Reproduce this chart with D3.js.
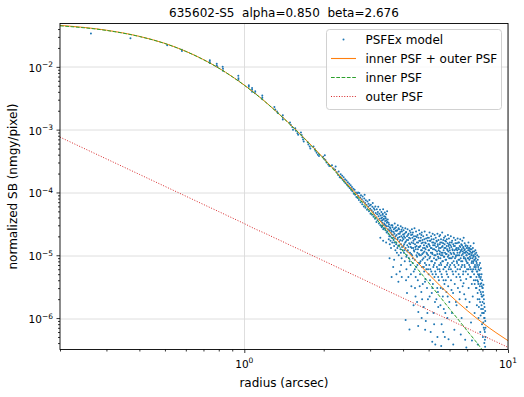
<!DOCTYPE html>
<html>
<head>
<meta charset="utf-8">
<script src="https://cdn.jsdelivr.net/npm/d3@7"></script>
<style>
  body { margin: 0; background: #fff; }
  svg { display: block; font-family: "DejaVu Sans", sans-serif; }
</style>
</head>
<body>
<svg id="chart"></svg>
<script>
// model curves
const curveR = [0.2, 0.3, 0.4, 0.5, 0.6, 0.7, 0.8, 0.9, 1.0, 1.1, 1.2, 1.3, 1.4, 1.5, 1.6, 1.7, 1.8, 1.9, 2.0, 2.2, 2.4, 2.6, 2.8, 3.0, 3.2, 3.5, 3.8, 4.0, 4.5, 5.0, 5.5, 6.0, 6.5, 7.0, 7.5, 8.0, 8.5, 9.0, 10];
const innerSB = [4.50e-2, 3.80e-2, 3.04e-2, 2.35e-2, 1.76e-2, 1.30e-2, 9.52e-3, 6.95e-3, 5.09e-3, 3.74e-3, 2.77e-3, 2.06e-3, 1.554e-3, 1.18e-3, 9.06e-4, 7.01e-4, 5.47e-4, 4.31e-4, 3.42e-4, 2.21e-4, 1.467e-4, 9.98e-5, 6.96e-5, 4.96e-5, 3.59e-5, 2.29e-5, 1.51e-5, 1.16e-5, 6.33e-6, 3.67e-6, 2.23e-6, 1.41e-6, 9.3e-7, 6.28e-7, 4.4e-7, 3.10e-7, 2.25e-7, 1.66e-7, 9.5e-8];
const outerSB = [7.6e-4, 3.42e-4, 1.94e-4, 1.25e-4, 8.73e-5, 6.44e-5, 4.96e-5, 3.93e-5, 3.19e-5, 2.62e-5, 2.23e-5, 1.9e-5, 1.645e-5, 1.43e-5, 1.264e-5, 1.12e-5, 1.002e-5, 9.0e-6, 8.15e-6, 6.75e-6, 5.68e-6, 4.85e-6, 4.2e-6, 3.66e-6, 3.22e-6, 2.70e-6, 2.30e-6, 2.08e-6, 1.65e-6, 1.34e-6, 1.11e-6, 9.36e-7, 8.0e-7, 6.90e-7, 6.0e-7, 5.31e-7, 4.7e-7, 4.21e-7, 3.42e-7];
const totalSB = [4.576e-2, 3.834e-2, 3.059e-2, 2.363e-2, 1.769e-2, 1.306e-2, 9.57e-3, 6.99e-3, 5.12e-3, 3.77e-3, 2.79e-3, 2.08e-3, 1.570e-3, 1.194e-3, 9.19e-4, 7.12e-4, 5.57e-4, 4.40e-4, 3.50e-4, 2.28e-4, 1.52e-4, 1.05e-4, 7.4e-5, 5.33e-5, 3.9e-5, 2.56e-5, 1.74e-5, 1.37e-5, 7.98e-6, 5.01e-6, 3.34e-6, 2.35e-6, 1.73e-6, 1.32e-6, 1.04e-6, 8.41e-7, 6.95e-7, 5.87e-7, 4.37e-7];

// PSFEx model pixels [radius, SB]
const psfexPoints = [
  [0.262,3.4e-2],[0.37,2.85e-2],[0.51,2.2e-2],[0.58,1.88e-2],[0.58,1.78e-2],
  [0.74,1.27e-2],[0.74,1.2e-2],[0.74,1.15e-2],[0.786,1.12e-2],[0.786,1.05e-2],[0.79,1.0e-2],
  [0.828,1.0e-2],[0.83,9.3e-3],[0.83,8.7e-3],[0.949,7.2e-3],[0.95,6.6e-3],[0.95,6.2e-3],
  [1.04,5.1e-3],[1.04,4.8e-3],[1.07,4.6e-3],[1.07,4.3e-3],[1.07,4.0e-3],[1.10,4.1e-3],[1.10,3.8e-3],
  [1.17,3.5e-3],[1.17,3.25e-3],[1.17,3.05e-3],[1.30,2.3e-3],[1.31,2.1e-3],[1.33,1.95e-3],[1.34,1.85e-3],
  [1.40,1.7e-3],[1.40,1.55e-3],[1.40,1.45e-3],[1.49,1.3e-3],[1.50,1.2e-3],[1.52,1.1e-3],[1.53,1.0e-3],
  [1.56,1.05e-3],[1.57,9.6e-4],[1.59,8.8e-4],[1.60,8.3e-4],[1.64,9.0e-4],[1.65,8.2e-4],[1.66,7.6e-4],
  [1.67,7.0e-4],[1.68,6.5e-4],[1.74,6.3e-4],[1.75,5.8e-4],[1.77,5.4e-4],[1.78,5.0e-4],
  [1.83,5.4e-4],[1.85,4.9e-4],[1.86,4.6e-4],[1.88,4.3e-4],[1.90,4.0e-4],[1.92,3.8e-4],
  [1.99,3.7e-4],[2.01,3.4e-4],[2.03,3.3e-4],[2.05,3.0e-4],[2.08,2.8e-4],[2.10,2.65e-4],[2.02,3.9e-4],
  [2.15,2.7e-4],[2.18,2.4e-4],[2.21,2.3e-4],[2.24,2.1e-4],[2.27,1.9e-4],[2.30,1.75e-4],[2.22,2.6e-4],[2.28,2.15e-4],
  [2.32,1.95e-4],[2.33,1.7e-4],[2.35,1.85e-4],[2.36,1.6e-4],[2.38,1.75e-4],[2.39,1.5e-4],[2.41,1.62e-4],[2.42,1.4e-4],
  [2.44,1.55e-4],[2.45,1.33e-4],[2.47,1.45e-4],[2.48,1.25e-4],[2.50,1.38e-4],[2.51,1.18e-4],[2.53,1.3e-4],[2.54,1.1e-4],
  [2.56,1.22e-4],[2.57,1.05e-4],[2.59,1.15e-4],[2.60,9.5e-5],[2.62,1.1e-4],[2.63,9.2e-5],[2.65,1.0e-4],[2.66,8.5e-5],
  [2.68,9.6e-5],[2.69,8.2e-5],[2.70,1.0e-4],
  [2.71,8.8e-5],[2.72,7.6e-5],[2.73,9.8e-5],[2.75,8.3e-5],[2.76,7.0e-5],[2.77,9.0e-5],[2.79,7.8e-5],[2.80,6.5e-5],
  [2.81,8.6e-5],[2.83,7.2e-5],[2.84,6.0e-5],[2.85,8.0e-5],[2.87,6.8e-5],[2.88,5.7e-5],[2.89,7.5e-5],[2.91,6.3e-5],
  [2.92,5.3e-5],[2.93,7.2e-5],[2.95,5.9e-5],[2.96,6.6e-5],[2.97,5.0e-5],[2.99,6.2e-5],[3.00,5.5e-5],[3.01,4.6e-5],
  [3.02,6.4e-5],[3.04,5.2e-5],[3.05,4.4e-5],[3.06,5.9e-5],[3.08,4.9e-5],[3.09,4.1e-5],[3.10,5.6e-5],[2.86,9.2e-5],
  [2.98,7.6e-5],[3.07,6.8e-5],
  [3.11,4.4e-5],[3.12,5.3e-5],[3.13,3.8e-5],[3.14,6.0e-5],[3.15,4.7e-5],[3.16,4.0e-5],[3.17,3.4e-5],[3.18,5.4e-5],
  [3.19,4.5e-5],[3.20,3.6e-5],[3.21,4.9e-5],[3.22,5.9e-5],[3.23,4.2e-5],[3.24,3.2e-5],[3.25,4.6e-5],[3.26,3.8e-5],
  [3.27,5.3e-5],[3.28,3.0e-5],[3.29,4.3e-5],[3.30,3.5e-5],[3.31,4.9e-5],[3.32,2.8e-5],[3.33,4.0e-5],[3.34,3.3e-5],
  [3.35,4.6e-5],[3.36,5.4e-5],[3.37,3.7e-5],[3.38,2.7e-5],[3.39,4.2e-5],[3.40,3.1e-5],[3.41,4.8e-5],[3.42,3.5e-5],
  [3.43,2.5e-5],[3.44,3.9e-5],[3.45,4.5e-5],[3.46,2.9e-5],[3.47,3.3e-5],[3.48,5.0e-5],[3.49,2.4e-5],[3.50,3.7e-5],
  [3.28,1.9e-5],[3.36,1.7e-5],[3.45,1.6e-5],
  [3.305,3.9e-5],[3.315,2.9e-5],[3.335,3.6e-5],[3.345,4.4e-5],[3.355,3.0e-5],[3.365,2.6e-5],[3.385,3.8e-5],[3.395,3.2e-5],
  [3.415,2.7e-5],[3.425,4.1e-5],[3.435,3.0e-5],[3.455,3.6e-5],[3.465,2.3e-5],[3.485,3.4e-5],[3.505,2.6e-5],[3.525,3.3e-5],
  [3.545,2.0e-5],[3.565,2.8e-5],[3.585,1.7e-5],[3.605,2.5e-5],[3.625,2.15e-5],[3.645,3.0e-5],[3.665,1.9e-5],[3.685,2.35e-5],
  [3.705,1.6e-5],[3.725,2.7e-5],[3.745,2.0e-5],[3.765,1.5e-5],[3.785,2.45e-5],[3.805,1.3e-5],[3.825,1.9e-5],[3.845,2.7e-5],
  [3.865,1.45e-5],[3.885,2.2e-5],[3.905,1.75e-5],[3.925,1.1e-5],[3.945,2.55e-5],[3.965,1.35e-5],[3.985,1.9e-5],
  [3.555,9.0e-6],[3.775,5.0e-6],[3.955,4.5e-6],
  [3.51,2.9e-5],[3.52,2.2e-5],[3.53,1.8e-5],[3.54,3.1e-5],[3.55,2.5e-5],[3.56,1.5e-5],[3.57,2.0e-5],[3.58,2.7e-5],
  [3.59,2.3e-5],[3.60,1.3e-5],[3.61,3.0e-5],[3.62,1.9e-5],[3.63,2.4e-5],[3.64,1.6e-5],[3.65,2.8e-5],[3.66,2.1e-5],
  [3.67,6.5e-6],[3.68,1.75e-5],[3.69,2.6e-5],[3.70,1.4e-5],[3.71,2.2e-5],[3.72,3.2e-5],[3.73,1.85e-5],[3.74,1.2e-5],
  [3.75,2.45e-5],[3.62,4.5e-6],[3.70,8.5e-6],
  [3.76,2.8e-5],[3.77,1.6e-5],[3.78,2.1e-5],[3.79,1.1e-5],[3.80,2.5e-5],[3.81,1.8e-5],[3.82,3.0e-5],[3.83,1.4e-5],
  [3.84,2.2e-5],[3.85,1.0e-5],[3.86,2.6e-5],[3.87,1.65e-5],[3.88,1.95e-5],[3.89,5.5e-6],[3.90,2.35e-5],[3.91,1.25e-5],
  [3.92,2.9e-5],[3.93,1.5e-5],[3.94,2.0e-5],[3.95,9.0e-6],[3.96,2.4e-5],[3.97,1.7e-5],[3.98,2.75e-5],[3.99,1.2e-5],
  [4.00,2.15e-5],[3.84,3.8e-6],[3.93,7.0e-6],
  [4.01,1.8e-5],[4.02,2.5e-5],[4.03,1.1e-5],[4.04,1.5e-5],[4.05,2.2e-5],[4.06,8.0e-6],[4.07,1.9e-5],[4.08,2.7e-5],
  [4.09,1.3e-5],[4.10,1.65e-5],[4.11,2.35e-5],[4.12,6.0e-6],[4.13,1.0e-5],[4.14,2.0e-5],[4.15,1.45e-5],[4.16,2.6e-5],
  [4.17,1.2e-5],[4.18,1.75e-5],[4.19,4.5e-6],[4.20,2.2e-5],[4.21,9.0e-6],[4.22,1.55e-5],[4.23,6.6e-7],[4.24,2.45e-5],
  [4.25,1.1e-5],[4.26,1.85e-5],[4.27,7.0e-6],[4.28,1.35e-5],[4.29,2.1e-5],[4.30,3.2e-6],[4.14,2.5e-6],[4.09,9.3e-7],
  [4.015,1.4e-5],[4.035,2.0e-5],[4.055,1.2e-5],[4.075,1.6e-5],[4.095,2.3e-5],[4.115,9.5e-6],[4.135,1.75e-5],[4.155,1.15e-5],
  [4.175,2.1e-5],[4.195,1.35e-5],[4.215,1.9e-5],[4.235,8.0e-6],[4.255,1.5e-5],[4.275,2.3e-5],[4.295,1.05e-5],[4.315,1.3e-5],
  [4.335,2.15e-5],[4.355,9.0e-6],[4.375,1.55e-5],[4.395,1.2e-5],[4.415,1.8e-5],[4.435,6.0e-6],[4.455,1.35e-5],[4.475,2.0e-5],
  [4.495,1.0e-5],[4.515,1.6e-5],[4.535,7.0e-6],[4.555,1.25e-5],[4.575,1.9e-5],[4.595,1.05e-5],[4.615,1.35e-5],[4.635,7.5e-6],
  [4.655,1.7e-5],[4.675,1.0e-5],[4.695,2.1e-5],[4.715,1.2e-5],[4.735,8.5e-6],[4.755,1.6e-5],[4.775,1.1e-5],[4.795,6.5e-6],
  [4.815,1.8e-5],[4.835,1.3e-5],[4.855,9.5e-6],[4.875,1.55e-5],[4.895,7.0e-6],[4.915,1.4e-5],[4.935,1.05e-5],[4.955,1.9e-5],
  [4.975,6.0e-6],[4.995,1.2e-5],[4.105,4.0e-6],[4.285,5.0e-6],[4.465,4.5e-6],[4.625,3.2e-6],[4.725,2.0e-6],[4.845,3.8e-6],
  [4.945,1.2e-6],[4.385,1.6e-6],[4.565,7.5e-7],[4.705,1.0e-6],
  [4.31,1.6e-5],[4.32,2.6e-5],[4.33,1.0e-5],[4.34,1.9e-5],[4.35,7.5e-6],[4.36,2.3e-5],[4.37,1.3e-5],[4.38,1.7e-5],
  [4.39,5.5e-6],[4.40,2.0e-5],[4.41,1.15e-5],[4.42,2.7e-5],[4.43,8.5e-6],[4.44,1.5e-5],[4.45,1.8e-5],[4.46,2.2e-6],
  [4.47,1.25e-5],[4.48,2.4e-5],[4.49,6.5e-6],[4.50,1.4e-5],[4.51,1.95e-5],[4.52,9.5e-6],[4.53,1.1e-5],[4.54,2.1e-5],
  [4.55,4.0e-6],[4.56,1.6e-5],[4.57,1.25e-6],[4.58,1.35e-5],[4.59,7.5e-6],[4.60,2.5e-5],[4.44,3.0e-6],[4.52,1.8e-6],
  [4.61,1.7e-5],[4.62,1.0e-5],[4.63,2.2e-5],[4.64,5.0e-6],[4.65,1.4e-5],[4.66,8.0e-6],[4.67,1.9e-5],[4.68,1.2e-5],
  [4.69,2.6e-6],[4.70,1.55e-5],[4.71,2.3e-5],[4.72,6.5e-6],[4.73,1.05e-5],[4.74,1.75e-5],[4.75,3.5e-6],[4.76,1.3e-5],
  [4.77,2.0e-5],[4.78,9.0e-6],[4.79,1.5e-6],[4.80,1.45e-5],[4.81,5.5e-6],[4.82,1.15e-5],[4.83,2.4e-5],[4.84,7.5e-6],
  [4.85,1.6e-5],[4.86,4.2e-6],[4.87,1.25e-5],[4.88,9.0e-7],[4.89,1.85e-5],[4.90,6.0e-6],[4.91,1.1e-5],[4.92,2.1e-5],
  [4.93,3.0e-6],[4.94,1.35e-5],[4.95,8.5e-6],[4.96,1.7e-5],[4.97,2.0e-6],[4.98,1.0e-5],[4.99,1.5e-5],[5.00,5.0e-6],
  [4.85,6.5e-7],
  [5.01,1.9e-5],[5.02,1.2e-5],[5.03,7.0e-6],[5.04,2.3e-5],[5.05,1.4e-5],[5.06,4.0e-6],[5.07,9.5e-6],[5.08,1.7e-5],
  [5.09,6.0e-7],[5.10,1.1e-5],[5.11,2.0e-5],[5.12,5.5e-6],[5.13,1.3e-5],[5.14,2.5e-6],[5.15,8.0e-6],[5.16,1.6e-5],
  [5.17,1.05e-5],[5.18,2.2e-5],[5.19,3.5e-6],[5.20,1.45e-5],[5.21,6.5e-6],[5.22,1.2e-6],[5.23,1.8e-5],[5.24,9.0e-6],
  [5.25,1.25e-5],[5.26,4.5e-6],[5.27,2.1e-5],[5.28,7.5e-6],[5.29,1.55e-5],[5.30,3.8e-7],[5.31,1.0e-5],[5.32,1.9e-5],
  [5.33,5.0e-6],[5.34,1.35e-5],[5.35,2.0e-6],[5.36,8.5e-6],[5.37,1.65e-5],[5.38,1.15e-5],[5.39,3.0e-6],[5.40,2.2e-5],
  [5.41,6.0e-6],[5.42,1.4e-5],[5.43,9.5e-6],[5.44,1.5e-6],[5.45,1.75e-5],[5.46,1.2e-5],[5.47,4.0e-6],[5.48,7.0e-6],
  [5.49,2.0e-5],[5.50,1.05e-5],[5.16,4.2e-7],[5.40,5.0e-7],
  [5.015,1.5e-5],[5.035,9.0e-6],[5.055,1.7e-5],[5.075,6.0e-6],[5.095,1.3e-5],[5.115,8.0e-6],[5.135,1.8e-5],[5.155,1.1e-5],
  [5.175,5.0e-6],[5.195,1.25e-5],[5.215,1.6e-5],[5.235,7.0e-6],[5.255,1.0e-5],[5.275,1.45e-5],[5.295,5.5e-6],[5.315,1.2e-5],
  [5.335,8.5e-6],[5.355,1.7e-5],[5.375,6.5e-6],[5.395,1.05e-5],[5.415,1.5e-5],[5.435,4.5e-6],[5.455,9.0e-6],[5.475,1.3e-5],
  [5.495,6.0e-6],[5.515,1.15e-5],[5.535,1.6e-5],[5.555,7.5e-6],[5.575,1.0e-5],[5.595,5.0e-6],[5.615,1.35e-5],[5.635,8.0e-6],
  [5.655,1.1e-5],[5.675,1.55e-5],[5.695,4.0e-6],[5.715,9.5e-6],[5.735,1.3e-5],[5.755,6.5e-6],[5.775,1.7e-5],[5.795,8.5e-6],
  [5.815,1.05e-5],[5.835,5.5e-6],[5.855,1.4e-5],[5.875,7.0e-6],[5.895,1.2e-5],[5.915,9.5e-6],[5.935,4.5e-6],[5.955,1.0e-5],
  [5.975,1.5e-5],[5.995,6.5e-6],[5.045,2.2e-6],[5.165,3.0e-6],[5.285,1.8e-6],[5.425,2.6e-6],[5.545,1.6e-6],[5.665,2.9e-6],
  [5.785,1.2e-6],[5.905,2.2e-6],[5.245,8.0e-7],[5.685,6.0e-7],
  [5.51,1.5e-5],[5.52,5.5e-6],[5.53,2.1e-5],[5.54,9.0e-6],[5.55,1.3e-5],[5.56,3.0e-6],[5.57,1.8e-5],[5.58,7.0e-6],
  [5.59,1.1e-5],[5.60,8.0e-7],[5.61,1.6e-5],[5.62,4.5e-6],[5.63,2.3e-5],[5.64,1.0e-5],[5.65,1.4e-5],[5.66,2.2e-6],
  [5.67,8.0e-6],[5.68,1.75e-5],[5.69,6.0e-6],[5.70,1.2e-5],[5.71,1.4e-6],[5.72,1.9e-5],[5.73,9.5e-6],[5.74,3.5e-6],
  [5.75,1.5e-5],[5.76,5.0e-7],[5.77,1.1e-5],[5.78,2.0e-5],[5.79,6.5e-6],[5.80,1.3e-5],[5.81,4.0e-6],[5.82,1.65e-5],
  [5.83,8.5e-6],[5.84,2.6e-6],[5.85,1.05e-5],[5.86,1.8e-5],[5.87,5.0e-6],[5.88,1.25e-5],[5.89,1.0e-6],[5.90,1.55e-5],
  [5.91,7.5e-6],[5.92,2.1e-5],[5.93,3.2e-6],[5.94,1.15e-5],[5.95,1.4e-5],[5.96,6.0e-6],[5.97,1.85e-5],[5.98,9.0e-6],
  [5.99,1.8e-6],[6.00,1.3e-5],[5.58,3.6e-7],[5.95,4.6e-7],
  [6.02,1.6e-5],[6.04,7.0e-6],[6.05,1.1e-5],[6.07,2.0e-5],[6.08,4.0e-6],[6.10,1.35e-5],[6.11,9.0e-6],[6.13,1.2e-6],
  [6.14,1.7e-5],[6.16,5.5e-6],[6.17,1.2e-5],[6.19,2.5e-6],[6.20,1.5e-5],[6.22,8.0e-6],[6.23,1.9e-5],[6.25,1.05e-5],
  [6.26,6.5e-7],[6.28,3.5e-6],[6.29,1.4e-5],[6.31,6.5e-6],[6.32,1.75e-5],[6.34,9.5e-6],[6.35,1.25e-5],[6.37,4.5e-6],
  [6.38,1.6e-6],[6.40,1.55e-5],[6.41,7.5e-6],[6.43,1.1e-5],[6.44,1.85e-5],[6.46,3.0e-6],[6.47,1.3e-5],[6.49,8.5e-6],
  [6.50,5.0e-6],[6.20,3.8e-7],
  [6.015,1.2e-5],[6.035,9.0e-6],[6.055,1.45e-5],[6.075,6.0e-6],[6.095,1.05e-5],[6.115,1.6e-5],[6.135,7.5e-6],[6.155,1.25e-5],
  [6.175,9.5e-6],[6.195,5.0e-6],[6.215,1.1e-5],[6.235,1.4e-5],[6.255,7.0e-6],[6.275,1.2e-5],[6.295,9.0e-6],[6.315,1.55e-5],
  [6.335,5.5e-6],[6.355,1.0e-5],[6.375,1.3e-5],[6.395,8.0e-6],[6.415,1.2e-5],[6.435,6.0e-6],[6.455,1.0e-5],[6.475,1.6e-5],
  [6.495,7.0e-6],[6.515,1.25e-5],[6.535,8.5e-6],[6.555,1.1e-5],[6.575,4.5e-6],[6.595,1.35e-5],[6.615,9.0e-6],[6.635,1.2e-5],
  [6.655,6.5e-6],[6.675,1.0e-5],[6.695,1.45e-5],[6.715,8.0e-6],[6.735,1.15e-5],[6.755,5.0e-6],[6.775,1.3e-5],[6.795,9.5e-6],
  [6.815,1.1e-5],[6.835,7.0e-6],[6.855,1.25e-5],[6.875,9.0e-6],[6.895,1.4e-5],[6.915,5.5e-6],[6.935,1.15e-5],[6.955,8.0e-6],
  [6.975,1.0e-5],[6.995,6.0e-6],[6.105,2.8e-6],[6.345,1.8e-6],[6.565,2.6e-6],[6.785,3.6e-6],[6.905,2.0e-6],
  [6.52,1.6e-5],[6.53,1.0e-5],[6.55,2.0e-6],[6.56,1.4e-5],[6.58,6.0e-6],[6.59,1.8e-5],[6.61,1.15e-5],[6.62,4.0e-6],
  [6.64,8.0e-6],[6.65,1.5e-5],[6.67,1.0e-6],[6.68,1.25e-5],[6.70,7.0e-6],[6.71,1.7e-5],[6.73,3.2e-6],[6.74,1.05e-5],
  [6.76,1.35e-5],[6.77,5.5e-6],[6.79,1.9e-5],[6.80,9.0e-6],[6.82,2.4e-6],[6.83,1.2e-5],[6.85,1.55e-5],[6.86,6.5e-6],
  [6.88,4.5e-7],[6.89,1.1e-5],[6.91,8.5e-6],[6.92,1.45e-5],[6.94,4.2e-6],[6.95,1.0e-5],[6.97,1.3e-5],[6.98,1.5e-6],
  [7.00,7.5e-6],[6.62,5.5e-7],[6.95,3.4e-7],
  [7.02,1.4e-5],[7.03,9.0e-6],[7.05,5.0e-6],[7.06,1.2e-5],[7.08,1.6e-5],[7.09,3.0e-6],[7.11,1.05e-5],[7.12,7.0e-6],
  [7.14,1.3e-5],[7.15,1.8e-6],[7.17,9.5e-6],[7.18,1.15e-5],[7.20,4.5e-6],[7.21,1.4e-5],[7.23,6.0e-6],[7.24,8.5e-7],
  [7.26,1.0e-5],[7.27,1.25e-5],[7.29,3.5e-6],[7.30,8.0e-6],[7.32,1.1e-5],[7.33,5.5e-6],[7.35,2.2e-6],[7.36,1.3e-5],
  [7.38,7.5e-6],[7.39,9.5e-6],[7.41,1.55e-5],[7.42,4.0e-6],[7.44,1.15e-5],[7.45,6.5e-6],[7.47,1.2e-6],[7.48,8.5e-6],
  [7.50,1.05e-5],[7.30,4.4e-7],
  [7.015,1.1e-5],[7.035,7.5e-6],[7.055,1.3e-5],[7.075,9.0e-6],[7.095,6.0e-6],[7.115,1.2e-5],[7.135,8.5e-6],[7.155,1.05e-5],
  [7.175,6.5e-6],[7.195,1.25e-5],[7.215,9.0e-6],[7.235,4.5e-6],[7.255,1.1e-5],[7.275,7.5e-6],[7.295,1.0e-5],[7.315,5.5e-6],
  [7.335,9.0e-6],[7.355,1.15e-5],[7.375,6.0e-6],[7.395,8.0e-6],[7.415,1.0e-5],[7.435,5.0e-6],[7.455,8.5e-6],[7.475,3.5e-6],
  [7.495,7.0e-6],[7.515,9.5e-6],[7.535,4.0e-6],[7.555,6.5e-6],[7.575,8.0e-6],[7.595,3.0e-6],[7.615,5.5e-6],[7.635,7.0e-6],
  [7.655,4.0e-6],[7.675,2.0e-6],[7.695,5.0e-6],[7.715,3.5e-6],[7.735,6.0e-6],[7.755,1.5e-6],[7.775,4.5e-6],[7.795,2.8e-6],
  [7.815,5.0e-6],[7.835,1.8e-6],[7.855,3.5e-6],[7.875,1.1e-6],[7.895,4.5e-6],[7.915,2.4e-6],[7.935,1.6e-6],[7.955,3.2e-6],
  [7.975,1.2e-6],[7.995,2.2e-6],[8.015,3.0e-6],[8.035,1.4e-6],[8.055,8.5e-7],[8.075,2.3e-6],[8.095,1.2e-6],[8.115,1.7e-6],
  [8.135,6.5e-7],[8.155,1.0e-6],[8.175,4.5e-7],[8.195,1.3e-6],[8.21,7.0e-7],[8.22,5.0e-7],
  [7.52,1.2e-5],[7.53,6.0e-6],[7.55,9.0e-6],[7.56,3.0e-6],[7.58,1.1e-5],[7.59,4.5e-6],[7.61,7.5e-6],[7.62,1.6e-6],
  [7.64,1.0e-5],[7.65,5.5e-6],[7.67,2.5e-6],[7.68,8.5e-6],[7.70,3.8e-6],[7.71,6.5e-6],[7.73,1.0e-6],[7.74,9.5e-6],
  [7.76,4.8e-6],[7.77,7.0e-6],[7.79,2.0e-6],[7.80,5.8e-6],[7.82,3.2e-6],[7.83,7.5e-6],[7.85,6.0e-7],[7.86,4.2e-6],
  [7.88,2.6e-6],[7.89,6.2e-6],[7.91,1.4e-6],[7.92,3.6e-6],[7.94,5.0e-6],[7.95,2.2e-6],[7.97,8.0e-7],[7.98,4.0e-6],
  [8.00,3.0e-6],[8.01,1.8e-6],[8.03,5.0e-7],[8.04,2.6e-6],[8.06,1.2e-6],[8.07,3.4e-6],[8.09,7.0e-7],[8.10,2.0e-6],
  [8.12,1.0e-6],[8.13,4.0e-7],[8.15,1.5e-6],[8.17,6.0e-7],[8.19,3.5e-7],[8.20,9.0e-7],[7.68,3.8e-7]
];

const xMajor = [1, 10];
const xMinor = [0.2, 0.3, 0.4, 0.5, 0.6, 0.7, 0.8, 0.9, 2, 3, 4, 5, 6, 7, 8, 9];
const yMajor = [1e-2, 1e-3, 1e-4, 1e-5, 1e-6];
const yMinor = [];
[1e-7, 1e-6, 1e-5, 1e-4, 1e-3, 1e-2].forEach(d => { for (let k = 2; k <= 9; k++) yMinor.push(k * d); });

const legendItems = ["PSFEx model", "inner PSF + outer PSF", "inner PSF", "outer PSF"];

const W = 524, H = 397;
const margin = {top: 23.5, right: 16, bottom: 47.5, left: 60};
const width = W - margin.left - margin.right;
const height = H - margin.top - margin.bottom;

const svg = d3.select("#chart").attr("width", W).attr("height", H);

const x = d3.scaleLog().domain([0.2, 10]).range([0, width]);
const y = d3.scaleLog().domain([3.16e-7, 0.049]).range([height, 0]);

const g = svg.append("g").attr("transform", `translate(${margin.left},${margin.top})`);

g.append("clipPath").attr("id", "clip")
  .append("rect").attr("width", width).attr("height", height);

// grid
g.append("g").selectAll("line").data(xMajor).join("line")
  .attr("x1", d => Math.round(x(d)) + 0.5).attr("x2", d => Math.round(x(d)) + 0.5)
  .attr("y1", 0).attr("y2", height)
  .attr("stroke", "#dadada").attr("stroke-width", 0.9);
g.append("g").selectAll("line").data(yMajor).join("line")
  .attr("y1", d => Math.round(y(d)) + 0.5).attr("y2", d => Math.round(y(d)) + 0.5)
  .attr("x1", 0).attr("x2", width)
  .attr("stroke", "#dadada").attr("stroke-width", 0.9);

const plot = g.append("g").attr("clip-path", "url(#clip)");

// scatter
plot.append("g").selectAll("circle").data(psfexPoints).join("circle")
  .attr("cx", d => x(d[0]))
  .attr("cy", d => y(d[1]))
  .attr("r", 1)
  .attr("fill", "#1f77b4");

const line = vals => d3.line()
  .x((d, i) => x(curveR[i]))
  .y((d, i) => y(vals[i]))
  .curve(d3.curveMonotoneX)(vals);

plot.append("path").attr("d", line(totalSB))
  .attr("fill", "none").attr("stroke", "#ff7f0e").attr("stroke-width", 1);
plot.append("path").attr("d", line(innerSB))
  .attr("fill", "none").attr("stroke", "#2ca02c").attr("stroke-width", 1)
  .attr("stroke-dasharray", "3.7,1.6");
plot.append("path").attr("d", line(outerSB))
  .attr("fill", "none").attr("stroke", "#d62728").attr("stroke-width", 1)
  .attr("stroke-dasharray", "1,1.65");

// axes
const xAxis = g.append("g").attr("transform", `translate(0,${height})`);
xAxis.call(d3.axisBottom(x).tickValues(xMajor).tickSize(3.5).tickFormat(() => ""));
const xAxisMinor = g.append("g").attr("transform", `translate(0,${height})`);
xAxisMinor.call(d3.axisBottom(x).tickValues(xMinor).tickSize(2).tickFormat(() => ""));
const yAxis = g.append("g");
yAxis.call(d3.axisLeft(y).tickValues(yMajor).tickSize(3.5).tickFormat(() => ""));
const yAxisMinor = g.append("g");
yAxisMinor.call(d3.axisLeft(y).tickValues(yMinor.filter(v => v >= 3.16e-7 && v <= 0.049)).tickSize(2).tickFormat(() => ""));
g.selectAll(".domain").remove();
g.selectAll(".tick line").attr("stroke", "#000").attr("stroke-width", 0.8);

g.append("rect").attr("x", 0).attr("y", 0).attr("width", width).attr("height", height)
  .attr("fill", "none").attr("stroke", "#000").attr("stroke-width", 0.9);

// tick labels with superscripts
const expLabel = (sel, d) => {
  const e = Math.round(Math.log10(d));
  sel.append("tspan").text("10");
  sel.append("tspan").attr("dy", -4.5).attr("font-size", "7.5px").text(e < 0 ? "\u2212" + (-e) : e);
};
g.append("g").selectAll("text").data(xMajor).join("text")
  .attr("x", d => x(d)).attr("y", height + 18)
  .attr("text-anchor", "middle").attr("font-size", "10.5px")
  .each(function(d) { expLabel(d3.select(this), d); });
g.append("g").selectAll("text").data(yMajor).join("text")
  .attr("x", -7).attr("y", d => y(d) + 5)
  .attr("text-anchor", "end").attr("font-size", "10.5px")
  .each(function(d) { expLabel(d3.select(this), d); });

// titles
svg.append("text").attr("x", margin.left + width / 2).attr("y", 17)
  .attr("text-anchor", "middle").attr("font-size", "12px")
  .attr("xml:space", "preserve")
  .text("635602-S5  alpha=0.850  beta=2.676");
svg.append("text").attr("x", margin.left + width / 2).attr("y", 387)
  .attr("text-anchor", "middle").attr("font-size", "12px")
  .text("radius (arcsec)");
svg.append("text").attr("transform", `translate(17,${margin.top + height / 2}) rotate(-90)`)
  .attr("text-anchor", "middle").attr("font-size", "12px")
  .text("normalized SB (nmgy/pixel)");

// legend
const leg = svg.append("g").attr("transform", "translate(326,29)");
leg.append("rect").attr("x", 0.5).attr("y", 0.5).attr("width", 175).attr("height", 80).attr("rx", 3)
  .attr("fill", "rgba(255,255,255,0.8)").attr("stroke", "#cccccc").attr("stroke-width", 0.9);
const rows = leg.selectAll("g.item").data(legendItems).join("g")
  .attr("class", "item")
  .attr("transform", (d, i) => `translate(0,${10.5 + i * 19})`);
rows.append("text").attr("x", 39.5).attr("y", 4.3).attr("font-size", "12px").text(d => d);
rows.filter((d, i) => i === 0).append("circle").attr("cx", 17.5).attr("cy", 0).attr("r", 1).attr("fill", "#1f77b4");
rows.filter((d, i) => i === 1).append("line").attr("x1", 5).attr("x2", 30).attr("y1", 0).attr("y2", 0)
  .attr("stroke", "#ff7f0e").attr("stroke-width", 1.1);
rows.filter((d, i) => i === 2).append("line").attr("x1", 5).attr("x2", 30).attr("y1", 0).attr("y2", 0)
  .attr("stroke", "#2ca02c").attr("stroke-width", 1.1).attr("stroke-dasharray", "3.7,1.6");
rows.filter((d, i) => i === 3).append("line").attr("x1", 5).attr("x2", 30).attr("y1", 0).attr("y2", 0)
  .attr("stroke", "#d62728").attr("stroke-width", 1.1).attr("stroke-dasharray", "1,1.65");
</script>
</body>
</html>
